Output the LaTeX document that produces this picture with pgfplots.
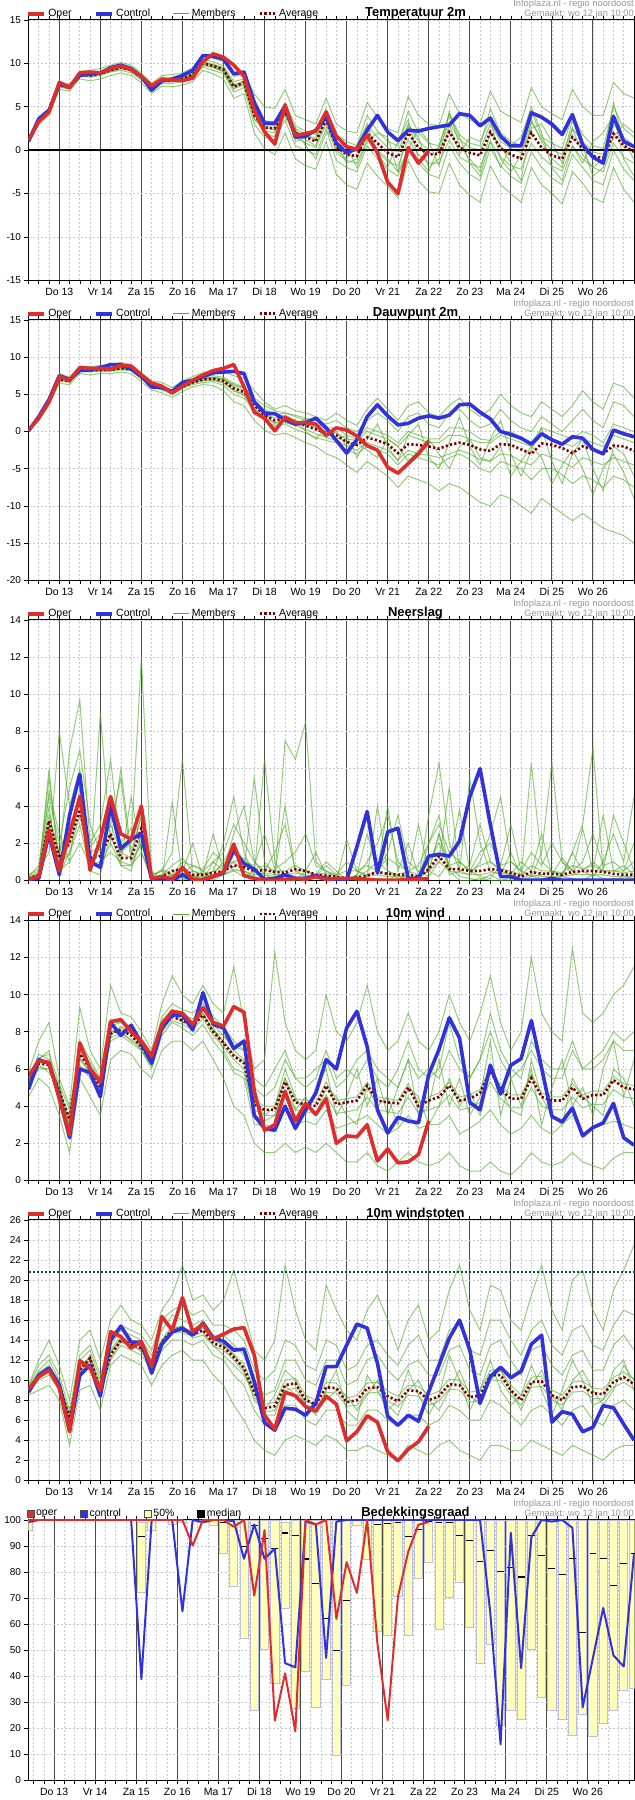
\documentclass[border=0pt]{standalone}
\usepackage{fontspec}
\setmainfont{Liberation Sans}
\usepackage{pgfplots}
\usepackage{pgfplotstable}
\pgfplotsset{compat=1.18}
\definecolor{operc}{RGB}{222,45,45}
\definecolor{ctrlc}{RGB}{50,50,218}
\definecolor{membc}{RGB}{80,170,40}
\definecolor{avgc}{RGB}{125,0,0}
\definecolor{gridc}{RGB}{200,200,210}
\definecolor{dayc}{RGB}{75,75,75}
\definecolor{barf}{RGB}{255,255,185}
\definecolor{bard}{RGB}{190,190,225}
\definecolor{infoc}{RGB}{150,150,150}
\definecolor{thrc}{RGB}{0,80,80}

% ---------- Temperatuur 2m ----------
\pgfplotstableread[header=false]{
k 0 1 2 3 4 5 6 7 8 9 10 11 12 13 14 15 16 17 18 19 20 21 22 23 24 25 26 27 28 29 30 31 32 33 34 35 36 37 38 39 40 41 42 43 44 45 46 47 48 49 50 51 52 53 54 55 56 57 58 59
oper 1.15 3.3 4.4 7.8 7.2 8.9 9.0 8.9 9.4 9.7 9.3 8.5 7.4 8.2 8.1 8.0 8.3 10.2 11.1 10.7 9.8 8.5 4.6 2.1 0.7 5.2 1.7 1.9 2.2 4.4 1.6 0.4 0.1 1.7 -0.3 -3.7 -5.0 0.3 -1.5 -0.1 nan nan nan nan nan nan nan nan nan nan nan nan nan nan nan nan nan nan nan nan
ctrl 1.0 3.6 4.6 7.6 7.3 8.6 8.8 8.9 9.5 9.8 9.4 8.5 6.9 8.0 8.2 8.6 9.2 10.9 10.8 10.5 8.8 9.0 5.5 3.1 3.1 5.1 1.5 1.6 2.3 3.8 0.8 -0.3 0.2 2.3 4.0 2.1 1.1 2.3 2.2 2.5 2.7 2.9 4.2 4.0 2.8 3.7 1.6 0.5 0.5 4.3 3.8 3.0 1.8 4.1 0.6 -0.8 -1.5 3.9 1.0 0.4
avg 1.2 3.4 4.4 7.5 7.2 8.7 8.6 8.8 9.2 9.5 9.2 8.4 7.2 8.0 8.0 8.2 8.7 10.0 9.7 9.3 7.3 7.8 4.0 2.6 2.5 4.4 2.0 1.5 1.0 3.5 0.4 -0.5 -0.7 1.9 0.8 -0.3 -0.8 2.0 0.3 -0.5 -0.4 2.1 0.3 -0.3 -0.6 2.1 0.2 -0.5 -1.0 2.0 0.3 -0.6 -1.0 1.5 0.2 -0.7 -0.9 1.9 0.5 -0.2
m1 1.5 3.8 4.8 7.9 7.6 9.1 9.2 9.4 9.8 10.1 9.8 8.9 7.7 8.6 8.7 8.9 9.5 10.9 10.6 10.2 8.5 8.8 6.5 5.0 4.8 7.0 4.0 3.5 3.0 6.0 3.0 2.2 2.0 5.5 3.8 2.5 2.0 6.2 4.0 3.0 2.8 6.5 4.2 3.5 3.0 6.8 4.5 3.8 3.2 7.2 5.0 4.2 3.5 7.0 5.0 4.0 4.0 7.8 6.5 6.0
m2 0.9 3.0 4.0 7.0 6.8 8.2 8.0 8.2 8.6 8.9 8.6 7.8 6.5 7.4 7.3 7.5 7.9 9.2 8.8 8.2 6.0 6.5 2.0 0.2 -0.5 2.0 -1.0 -1.8 -2.2 1.0 -2.8 -4.0 -4.5 -1.5 -3.0 -4.2 -5.5 -1.2 -3.5 -4.8 -5.0 -1.5 -4.0 -5.2 -6.0 -1.8 -4.0 -5.0 -6.0 -2.0 -4.0 -5.0 -6.2 -2.5 -3.8 -5.5 -6.0 -2.0 -4.5 -6.0
m3 1.3 3.6 4.6 7.7 7.4 8.9 8.9 9.0 9.5 9.8 9.5 8.6 7.4 8.3 8.2 8.5 9.0 10.4 10.2 9.7 7.9 8.2 5.0 3.5 3.0 5.5 2.8 2.2 1.8 4.8 1.8 1.0 0.5 4.0 2.2 1.0 0.5 4.5 2.0 0.8 0.5 4.2 1.8 0.8 0.5 4.8 2.0 1.0 0.5 4.5 1.5 0.8 0.2 4.0 1.8 0.5 0.2 5.0 2.5 1.5
m4 1.1 3.2 4.2 7.3 7.0 8.5 8.4 8.6 9.0 9.2 8.9 8.1 6.9 7.7 7.7 7.9 8.3 9.6 9.2 8.8 6.7 7.2 3.0 1.5 1.2 3.5 0.5 0.0 -0.5 2.5 -1.2 -2.0 -2.5 0.5 -1.0 -2.2 -3.0 0.2 -1.5 -2.8 -3.2 0.5 -1.5 -2.8 -3.5 0.2 -1.8 -3.0 -3.8 -0.2 -2.0 -3.2 -4.0 -0.5 -2.0 -3.5 -4.0 0.0 -2.2 -3.5
m5 1.2 3.5 4.5 7.6 7.3 8.6 8.7 8.8 9.3 9.6 9.1 8.3 7.0 8.1 8.1 8.1 8.6 10.2 9.9 9.5 7.5 7.5 4.5 2.0 1.5 5.2 1.0 1.5 1.5 4.5 0.0 -1.0 0.5 3.0 -0.5 -2.0 1.0 3.5 -1.0 -2.5 0.5 4.0 1.5 -1.5 -3.0 1.0 -2.0 0.5 1.5 5.0 2.0 -2.0 -3.5 0.5 -1.5 1.0 2.0 4.0 -1.0 -3.0
m6 1.0 3.3 4.3 7.4 7.1 8.8 8.5 8.9 9.1 9.4 9.3 8.5 7.3 7.9 7.9 8.3 8.8 9.8 9.5 9.0 7.0 8.0 3.5 2.8 2.5 4.0 2.5 0.5 -1.0 2.0 1.5 0.5 -2.0 1.0 2.0 1.5 -2.5 0.0 2.5 1.0 -1.8 3.0 -0.5 1.5 1.0 3.5 -1.0 -2.5 -0.5 2.5 3.0 1.0 -1.5 3.5 0.5 -3.0 -2.0 1.5 3.0 2.0
m7 1.2 3.5 4.5 7.6 7.3 8.8 8.7 8.9 9.3 9.6 9.3 8.5 7.3 8.1 8.1 8.3 8.8 10.1 9.8 9.4 7.5 8.0 4.5 3.0 2.8 5.0 2.5 1.8 1.2 4.0 1.0 0.2 -0.2 2.8 1.5 0.3 -0.2 3.0 1.0 0.0 0.2 3.2 1.2 0.3 0.0 3.0 1.0 0.2 -0.3 3.2 1.2 0.0 -0.5 2.5 1.0 -0.2 -0.5 3.0 1.5 0.5
m8 1.1 3.3 4.3 7.4 7.1 8.6 8.5 8.7 9.1 9.4 9.1 8.3 7.1 7.9 7.9 8.1 8.6 9.9 9.6 9.1 7.1 7.5 3.6 2.2 2.0 4.0 1.5 0.8 0.3 3.0 -0.3 -1.2 -1.5 1.2 -0.2 -1.3 -1.8 1.2 -0.5 -1.5 -1.5 1.2 -0.8 -1.5 -2.0 1.0 -0.8 -1.8 -2.2 0.8 -0.8 -1.8 -2.4 0.5 -1.0 -2.0 -2.5 0.8 -0.8 -1.5
m9 1.3 3.4 4.5 7.5 7.2 8.7 8.7 8.7 9.2 9.5 9.2 8.4 7.2 8.0 8.0 8.2 8.7 10.1 9.8 9.2 7.6 7.6 4.2 2.6 2.3 4.8 2.2 1.2 0.5 3.8 0.8 -1.5 -1.0 2.5 0.0 -1.0 -2.5 2.8 1.5 -2.0 -1.0 4.5 0.5 -1.0 -2.5 2.0 0.5 -1.5 -3.5 3.5 1.0 -1.0 -2.0 2.5 -0.5 -2.0 -1.0 5.5 1.0 -1.0
}\rA
\pgfplotstabletranspose[colnames from=0]{\tA}{\rA}

% ---------- Dauwpunt 2m ----------
\pgfplotstableread[header=false]{
k 0 1 2 3 4 5 6 7 8 9 10 11 12 13 14 15 16 17 18 19 20 21 22 23 24 25 26 27 28 29 30 31 32 33 34 35 36 37 38 39 40 41 42 43 44 45 46 47 48 49 50 51 52 53 54 55 56 57 58 59
oper 0.2 1.8 4.0 7.4 6.9 8.6 8.5 8.5 8.4 8.9 8.8 7.6 6.5 6.1 5.2 6.1 6.9 7.6 8.2 8.5 9.0 6.0 2.6 1.8 0.1 1.9 1.2 1.2 1.0 -0.5 0.5 0.2 -0.6 -1.9 -2.5 -4.8 -5.6 -4.3 -3.0 -1.3 nan nan nan nan nan nan nan nan nan nan nan nan nan nan nan nan nan nan nan nan
ctrl 0.1 2.0 4.3 7.5 7.0 8.2 8.3 8.6 9.0 9.0 8.4 7.4 6.0 5.9 5.4 6.6 6.9 7.4 7.9 8.0 8.1 7.8 4.0 2.5 2.4 1.6 1.0 1.2 1.8 0.5 -1.2 -2.9 -1.1 2.0 3.6 2.1 0.9 1.1 1.8 2.1 1.8 2.2 3.6 3.7 2.6 1.7 0.0 -0.4 -0.9 -1.7 -0.3 -1.1 -1.7 -0.7 -0.9 -2.4 -3.0 0.2 -0.3 -0.7
avg 0.1 1.8 4.0 7.0 6.8 8.3 8.2 8.3 8.3 8.5 8.4 7.3 6.2 5.9 5.3 6.0 6.6 7.0 7.1 6.8 5.8 5.3 3.5 2.2 1.5 1.8 1.2 0.8 0.3 -0.2 -0.5 -1.4 -1.8 -0.8 -1.2 -1.7 -2.9 -1.7 -1.8 -2.0 -2.3 -1.8 -1.5 -1.8 -2.4 -2.6 -1.7 -1.8 -2.4 -3.0 -1.6 -1.8 -2.2 -2.9 -2.0 -2.4 -3.0 -1.9 -2.0 -2.6
m1 0.3 2.2 4.5 7.8 7.3 8.8 8.7 8.9 9.0 9.3 9.0 7.9 6.8 6.6 5.9 6.8 7.4 7.9 8.2 8.1 7.5 7.2 5.5 4.0 3.0 3.5 2.8 2.5 2.0 1.5 2.5 1.5 0.8 3.0 4.5 3.0 1.5 3.5 4.0 2.5 2.0 3.5 4.5 3.0 2.0 3.0 5.0 3.5 2.5 2.0 4.0 3.0 2.0 3.5 5.5 4.0 3.0 6.5 6.0 4.5
m2 0.0 1.5 3.6 6.5 6.3 7.8 7.6 7.8 7.8 8.0 7.8 6.7 5.6 5.2 4.6 5.4 6.0 6.3 6.2 5.5 4.0 3.5 1.5 0.2 -0.5 -0.2 -0.8 -1.5 -2.0 -3.0 -3.5 -4.5 -5.5 -4.0 -5.0 -6.0 -7.5 -6.0 -6.5 -7.0 -8.0 -7.0 -7.5 -8.5 -9.5 -10.0 -8.5 -9.0 -10.0 -11.0 -9.0 -10.0 -11.0 -12.0 -11.0 -12.0 -13.0 -13.5 -14.0 -15.0
m3 0.2 1.9 4.2 7.3 7.0 8.5 8.4 8.5 8.6 8.8 8.6 7.5 6.4 6.2 5.5 6.3 6.9 7.4 7.5 7.3 6.5 6.0 4.2 3.0 2.2 2.5 2.0 1.5 1.0 0.5 0.5 -0.5 -1.0 0.5 0.0 -0.5 -1.5 0.0 -0.5 -1.0 -1.0 0.5 0.5 0.0 -1.0 -1.2 0.0 0.0 -0.8 -1.5 0.5 0.0 -0.5 -1.0 0.0 -0.5 -1.5 1.0 0.5 0.0
m4 0.1 1.7 3.8 6.8 6.6 8.1 8.0 8.1 8.1 8.3 8.2 7.1 6.0 5.6 5.0 5.8 6.3 6.6 6.7 6.2 5.0 4.5 2.8 1.4 0.8 1.0 0.3 -0.2 -0.8 -1.2 -1.5 -2.5 -3.0 -2.0 -2.5 -3.0 -4.5 -3.0 -3.5 -4.0 -4.5 -3.5 -3.0 -3.8 -5.0 -5.5 -4.0 -4.5 -5.0 -6.5 -5.0 -5.0 -5.8 -7.0 -6.0 -6.5 -7.5 -6.0 -6.5 -7.5
m5 0.0 1.8 4.1 7.1 6.9 8.2 8.4 8.2 8.5 8.6 8.3 7.2 6.1 5.8 5.4 6.1 6.5 7.2 7.0 6.5 5.5 4.8 3.0 2.5 1.0 2.0 1.5 0.0 -1.0 0.5 -1.0 -0.5 -3.5 -1.0 1.0 -2.0 -4.0 -0.5 1.0 -3.5 -5.0 -1.5 2.0 -2.0 -4.5 -1.0 1.5 -3.0 -6.0 -2.5 0.5 -4.0 -7.0 -3.0 -1.0 -5.0 -8.0 -2.0 -3.0 -6.0
m6 0.1 1.9 3.9 7.2 6.7 8.4 8.1 8.4 8.2 8.7 8.5 7.4 6.3 6.0 5.2 5.9 6.7 6.9 7.3 7.0 6.2 5.8 4.0 1.8 2.5 1.2 0.8 1.8 0.5 -0.8 0.0 -2.0 -1.5 -2.5 -3.5 -1.0 -2.0 -4.0 -2.5 -1.0 -3.0 -5.0 -2.0 -1.0 -3.5 -4.0 -2.0 -6.0 -4.0 -2.0 -3.5 -7.0 -4.5 -2.5 -5.0 -8.5 -5.0 -3.0 -5.5 -9.0
m7 0.1 1.8 4.0 7.1 6.8 8.3 8.2 8.3 8.3 8.5 8.4 7.3 6.2 5.9 5.3 6.0 6.6 7.1 7.2 6.9 6.0 5.5 3.8 2.5 1.8 2.2 1.5 1.0 0.5 0.0 -0.2 -1.0 -1.2 0.0 -0.5 -1.0 -2.0 -0.5 -1.0 -1.5 -1.5 -0.5 -0.5 -1.0 -1.5 -1.5 -0.5 -1.0 -1.5 -2.0 -0.5 -1.0 -1.5 -2.0 -1.0 -1.5 -2.0 -0.5 -1.0 -1.5
m8 0.1 1.7 3.9 6.9 6.7 8.2 8.1 8.2 8.2 8.4 8.3 7.2 6.1 5.8 5.2 5.9 6.5 6.8 6.9 6.6 5.5 5.0 3.0 1.8 1.2 1.4 0.8 0.3 -0.3 -0.8 -1.2 -2.0 -2.5 -1.5 -2.0 -2.5 -3.8 -2.5 -3.0 -3.2 -3.5 -3.0 -2.5 -3.0 -3.8 -4.0 -3.0 -3.2 -4.0 -4.5 -3.0 -3.5 -4.0 -4.8 -3.5 -4.0 -4.5 -3.5 -4.0 -4.5
m9 0.2 1.9 4.1 7.2 6.9 8.4 8.3 8.4 8.4 8.6 8.5 7.4 6.3 6.0 5.4 6.1 6.7 7.2 7.3 7.1 6.3 5.9 4.5 3.5 2.8 2.5 2.2 1.8 1.5 1.0 1.5 0.5 0.0 1.5 2.5 1.5 0.0 2.0 2.5 1.0 0.5 2.5 3.0 1.5 0.5 1.0 3.0 1.5 0.5 0.0 2.0 1.0 0.0 1.5 3.0 1.5 0.5 4.0 3.5 2.0
}\rB
\pgfplotstabletranspose[colnames from=0]{\tB}{\rB}

% ---------- Neerslag ----------
\pgfplotstableread[header=false]{
k 0 1 2 3 4 5 6 7 8 9 10 11 12 13 14 15 16 17 18 19 20 21 22 23 24 25 26 27 28 29 30 31 32 33 34 35 36 37 38 39 40 41 42 43 44 45 46 47 48 49 50 51 52 53 54 55 56 57 58 59
oper 0.05 0.2 2.7 0.5 2.5 4.5 0.55 2.2 4.5 2.5 2.2 4.0 0.1 0.2 0.05 0.7 0.05 0.05 0.2 0.45 1.95 0.25 0.1 0.0 0.0 0.05 0.1 0.05 0.2 0.05 0.1 0.1 0.1 0.05 0.0 0.0 0.0 0.05 0.05 0.1 nan nan nan nan nan nan nan nan nan nan nan nan nan nan nan nan nan nan nan nan
ctrl 0.05 0.1 2.5 0.3 3.5 5.7 1.0 0.7 4.0 1.7 2.2 2.5 0.05 0.1 0.0 0.3 0.0 0.0 0.2 0.4 1.6 0.9 0.6 0.05 0.1 0.3 0.1 0.1 0.25 0.1 0.05 0.0 1.8 3.7 0.4 2.6 2.8 0.1 0.1 1.3 1.4 1.3 2.1 4.5 6.0 3.0 0.2 0.2 0.0 0.0 0.0 0.1 0.0 0.0 0.0 0.0 0.0 0.0 0.0 0.0
avg 0.1 0.3 3.2 1.2 2.0 3.8 1.2 1.3 2.5 1.2 1.2 2.8 0.1 0.2 0.5 0.6 0.3 0.3 0.4 0.5 0.8 0.7 0.5 0.55 0.45 0.4 0.6 0.5 0.3 0.25 0.2 0.1 0.15 0.25 0.45 0.35 0.3 0.3 0.2 0.6 1.3 0.6 0.6 0.5 0.5 0.6 0.55 0.4 0.2 0.45 0.35 0.35 0.3 0.45 0.5 0.5 0.45 0.35 0.3 0.3
m1 0.2 0.5 5.5 1.0 7.0 9.7 2.0 3.0 6.5 1.5 2.0 12.0 0.2 0.5 1.5 6.5 0.3 0.0 1.0 0.5 2.5 4.0 1.0 0.3 0.2 7.5 6.5 8.5 1.0 0.5 0.2 0.0 0.3 1.0 2.0 3.5 1.0 0.5 0.0 3.5 6.3 2.0 0.5 0.3 1.0 2.5 4.5 1.0 0.5 0.2 1.5 6.3 1.0 0.3 0.5 1.0 0.5 0.5 0.8 0.3
m2 0.1 0.3 6.0 0.3 1.5 3.0 0.5 9.0 2.0 6.0 1.5 3.5 0.0 0.2 0.2 0.5 2.0 0.1 0.5 2.0 4.5 1.5 0.3 6.5 1.0 0.2 0.0 0.5 1.5 0.3 0.0 2.2 0.5 0.2 4.0 0.5 0.1 0.3 3.0 0.5 0.2 1.0 3.8 0.5 0.2 0.1 0.8 3.0 0.5 0.2 0.3 0.5 0.2 1.5 3.0 7.1 0.5 3.5 2.0 0.5
m3 0.2 0.8 4.5 2.0 5.0 7.0 3.0 1.5 3.0 5.5 1.0 2.0 0.5 0.0 4.2 0.2 0.5 0.3 2.5 0.5 1.0 0.5 5.5 1.0 0.3 4.0 0.5 0.2 0.3 1.0 0.5 0.0 0.3 2.5 0.5 4.0 0.5 2.0 0.3 0.5 2.5 0.3 0.5 5.5 2.0 0.5 0.3 1.5 0.2 6.3 1.0 0.5 0.3 1.5 0.5 0.2 1.0 2.5 1.0 4.5
m4 0.0 0.2 3.0 0.5 1.0 2.0 0.8 1.0 1.5 1.0 0.8 1.5 0.0 0.1 0.3 0.1 0.0 0.5 0.0 0.3 0.5 0.2 0.5 0.3 0.0 0.2 0.1 0.2 0.1 0.0 0.0 0.1 0.0 0.0 0.1 0.0 0.3 0.0 0.2 0.5 2.5 0.8 0.2 0.1 0.0 0.3 0.0 0.1 0.0 0.2 0.1 0.0 0.2 0.1 0.0 0.3 0.1 0.0 0.2 0.1
m5 0.3 0.6 1.5 8.0 4.0 6.0 1.0 2.0 4.5 1.0 4.5 1.5 0.3 0.5 0.2 0.3 0.8 0.5 1.0 1.5 3.0 2.0 1.0 0.5 1.5 3.0 0.5 0.5 0.2 0.8 0.3 0.5 0.5 0.3 0.5 1.5 3.5 1.0 0.5 0.2 1.0 5.0 0.5 0.8 3.0 1.0 0.5 0.3 1.0 0.5 2.5 0.3 1.2 0.5 2.8 0.5 3.5 0.5 0.5 2.0
m6 0.1 0.2 4.0 0.2 2.5 4.5 0.5 0.3 2.5 0.8 0.5 2.5 0.0 0.0 0.1 0.0 0.2 0.0 0.3 1.0 0.5 0.5 0.2 0.0 0.0 0.0 0.0 0.1 0.2 0.0 0.0 0.0 0.1 0.0 0.0 0.0 0.0 0.1 0.0 2.0 3.5 0.5 0.0 0.0 0.1 0.0 0.0 0.0 0.0 0.0 0.0 0.1 0.0 0.0 0.0 0.0 0.0 0.1 0.0 0.0
m7 0.1 0.4 3.5 1.5 3.0 4.0 1.5 1.8 3.0 1.5 1.2 3.5 0.1 0.3 0.8 1.2 0.5 0.3 0.5 0.8 1.0 1.2 0.6 0.8 0.5 0.5 0.8 0.5 0.3 0.4 0.2 0.1 0.2 0.5 1.0 0.5 0.3 0.5 0.3 1.0 2.0 0.8 1.0 0.5 0.8 1.0 0.6 0.5 0.3 0.8 0.5 0.5 0.4 0.8 0.6 0.8 0.5 0.5 0.4 0.5
m8 0.0 0.3 2.5 0.8 1.5 3.5 1.0 0.8 2.0 0.8 0.8 2.0 0.0 0.1 0.3 0.4 0.2 0.2 0.3 0.3 0.6 0.5 0.3 0.4 0.3 0.3 0.4 0.3 0.2 0.2 0.1 0.1 0.1 0.2 0.3 0.2 0.2 0.2 0.1 0.5 1.0 0.5 0.4 0.3 0.3 0.4 0.4 0.3 0.1 0.3 0.2 0.2 0.2 0.3 0.3 0.3 0.3 0.2 0.2 0.2
m9 0.2 0.1 4.8 2.5 1.0 5.0 1.8 2.5 3.5 2.0 2.8 2.0 0.2 0.6 0.3 1.0 0.8 0.6 1.5 1.0 2.0 1.0 0.8 2.5 0.6 1.0 1.5 2.5 0.8 0.5 0.3 1.0 0.5 0.8 0.5 1.2 0.8 0.5 0.8 2.0 3.0 1.5 1.0 0.5 1.5 2.0 0.8 1.0 0.5 1.5 0.8 2.0 1.0 0.5 1.0 2.5 0.8 1.0 0.5 1.0
}\rC
\pgfplotstabletranspose[colnames from=0]{\tC}{\rC}

% ---------- 10m wind ----------
\pgfplotstableread[header=false]{
k 0 1 2 3 4 5 6 7 8 9 10 11 12 13 14 15 16 17 18 19 20 21 22 23 24 25 26 27 28 29 30 31 32 33 34 35 36 37 38 39 40 41 42 43 44 45 46 47 48 49 50 51 52 53 54 55 56 57 58 59
oper 5.6 6.45 6.35 4.4 2.45 7.4 6.0 5.3 8.55 8.65 8.0 7.5 6.7 8.4 9.1 9.0 8.4 9.3 8.5 8.3 9.35 9.05 4.8 2.7 3.0 4.8 3.2 4.15 3.55 4.4 2.0 2.4 2.35 3.0 1.05 1.7 0.95 1.0 1.4 3.2 nan nan nan nan nan nan nan nan nan nan nan nan nan nan nan nan nan nan nan nan
ctrl 4.9 6.5 6.3 4.5 2.3 6.0 5.8 4.5 8.5 7.8 8.35 7.4 6.3 8.2 8.9 8.9 8.1 10.1 8.4 8.2 7.1 7.5 3.5 2.8 2.7 4.0 2.8 3.8 4.7 6.5 6.0 8.2 9.1 7.2 3.8 2.55 3.4 3.2 3.1 5.7 7.05 8.75 7.65 4.2 3.8 6.2 4.65 6.2 6.55 8.6 6.05 3.45 3.15 3.9 2.4 2.85 3.1 4.15 2.3 1.9
avg 5.2 6.3 6.2 4.8 3.3 6.8 6.0 5.0 7.9 8.1 7.8 7.2 6.4 8.2 8.8 8.6 8.3 8.9 8.0 7.4 6.7 6.3 4.1 3.8 3.8 5.3 4.2 4.1 4.0 5.1 4.1 4.2 4.3 5.1 4.3 4.2 4.15 5.0 4.0 4.3 4.5 5.1 4.3 4.4 4.7 5.9 4.9 4.4 4.4 5.5 4.5 4.3 4.3 5.0 4.4 4.6 4.6 5.4 5.0 4.9
m1 5.8 7.5 8.5 5.5 4.0 9.3 7.0 6.0 10.5 9.0 8.8 8.0 7.0 9.5 11.0 10.0 9.5 10.5 9.5 9.0 11.5 8.5 6.0 6.5 12.3 8.5 7.0 6.5 7.0 10.0 8.0 7.5 8.5 10.5 8.0 7.0 7.5 9.0 7.5 7.0 8.0 10.0 8.5 7.5 9.0 11.0 8.5 7.0 8.0 12.0 9.0 8.0 7.5 12.5 9.0 8.5 9.0 10.0 10.5 11.5
m2 4.5 5.5 5.0 3.5 1.5 5.5 4.5 3.5 6.5 7.0 6.8 6.0 5.5 7.0 7.5 7.5 7.0 7.5 6.5 5.5 4.0 3.5 2.0 1.5 1.5 2.0 1.5 1.8 1.5 2.0 1.5 1.0 1.0 1.5 0.8 0.5 1.0 1.5 1.0 0.8 1.0 1.5 0.8 0.5 0.5 1.0 0.5 0.3 0.8 1.5 1.0 0.8 1.0 1.5 1.0 0.8 0.6 1.2 1.5 1.5
m3 5.5 6.8 6.5 5.0 3.0 7.5 6.5 5.5 8.5 8.5 8.3 7.5 6.8 8.8 9.5 9.2 9.0 9.5 8.8 8.3 7.5 7.0 5.0 4.5 5.0 6.5 5.5 5.0 5.5 7.0 5.5 6.0 5.5 6.5 5.5 5.0 6.0 7.5 6.0 5.5 6.0 8.5 6.5 5.5 6.5 9.0 7.0 6.0 5.5 7.5 6.5 6.0 6.0 7.5 6.0 6.5 7.0 8.0 7.5 8.0
m4 5.0 6.0 6.0 4.5 2.5 6.2 5.5 4.5 7.5 7.8 7.4 7.0 6.0 7.8 8.5 8.2 7.8 8.4 7.5 6.8 5.8 5.5 3.0 3.0 2.8 4.0 3.0 3.2 3.0 3.8 2.8 3.0 3.2 3.5 3.0 2.5 2.8 3.5 2.8 3.0 3.0 3.5 2.5 2.8 3.2 3.8 3.0 2.5 2.8 3.5 2.8 2.5 3.0 3.5 2.5 2.8 3.0 3.2 3.0 2.8
m5 5.3 6.5 7.0 4.0 3.5 7.0 6.2 5.0 8.0 8.0 7.5 7.3 6.5 8.0 9.0 8.5 8.5 9.0 8.0 7.8 7.0 6.5 4.5 3.5 4.0 6.0 4.5 3.5 5.0 6.0 3.5 4.5 6.0 4.0 5.5 3.5 5.0 6.5 3.5 4.0 6.5 4.0 5.5 3.5 4.5 7.5 3.5 5.5 4.0 6.0 3.0 5.0 6.5 4.0 5.0 3.5 6.0 7.5 4.5 6.5
m6 5.1 6.2 5.8 5.2 2.8 6.5 5.8 4.8 7.8 8.3 8.0 7.0 6.2 8.5 9.2 8.8 8.0 9.2 8.3 7.0 6.0 5.8 3.5 3.2 3.5 5.5 3.8 4.5 3.5 5.0 4.5 3.5 3.0 5.0 4.0 4.5 3.0 5.0 4.5 3.0 4.0 5.5 4.0 4.8 3.5 6.0 5.0 3.8 3.5 6.5 4.5 3.5 3.0 5.5 4.5 4.0 3.5 6.0 5.5 4.0
m7 5.2 6.4 6.3 4.9 3.2 6.9 6.1 5.1 8.0 8.2 7.9 7.3 6.5 8.3 8.9 8.7 8.4 9.0 8.1 7.5 6.8 6.4 4.3 4.0 4.0 5.5 4.4 4.3 4.2 5.3 4.3 4.4 4.5 5.3 4.5 4.4 4.3 5.2 4.2 4.5 4.7 5.3 4.5 4.6 4.9 6.1 5.1 4.6 4.6 5.7 4.7 4.5 4.5 5.2 4.6 4.8 4.8 5.6 5.2 5.1
m8 5.0 6.1 6.0 4.6 3.0 6.6 5.8 4.8 7.7 7.9 7.6 7.0 6.2 8.0 8.6 8.4 8.1 8.7 7.8 7.2 6.5 6.0 3.8 3.5 3.5 4.8 3.8 3.7 3.6 4.6 3.6 3.7 3.8 4.5 3.8 3.7 3.6 4.5 3.6 3.8 4.0 4.6 3.8 3.9 4.2 5.3 4.4 3.9 3.9 5.0 4.0 3.8 3.8 4.5 3.9 4.1 4.1 4.9 4.5 4.4
m9 5.4 6.6 6.8 5.2 3.8 7.2 6.3 5.4 8.3 8.5 8.1 7.6 6.8 8.6 9.2 8.9 8.7 9.3 8.4 7.8 7.2 7.0 5.5 5.0 6.0 7.0 5.5 5.5 6.0 6.5 5.0 5.5 6.5 7.0 6.0 5.5 5.0 6.5 5.5 6.0 5.5 7.0 6.0 5.5 6.5 8.0 6.5 5.5 6.0 7.0 6.0 5.5 5.5 7.0 6.0 6.0 6.5 7.5 7.0 7.0
}\rD
\pgfplotstabletranspose[colnames from=0]{\tD}{\rD}

% ---------- 10m windstoten ----------
\pgfplotstableread[header=false]{
k 0 1 2 3 4 5 6 7 8 9 10 11 12 13 14 15 16 17 18 19 20 21 22 23 24 25 26 27 28 29 30 31 32 33 34 35 36 37 38 39 40 41 42 43 44 45 46 47 48 49 50 51 52 53 54 55 56 57 58 59
oper 9.1 10.35 11.0 9.2 4.85 11.95 11.2 9.0 14.85 14.35 13.2 13.85 11.35 16.35 15.0 18.25 14.85 15.6 14.1 14.6 15.1 15.25 12.5 6.5 5.1 8.8 8.45 7.35 6.9 8.4 7.6 3.95 4.85 6.45 5.8 2.85 1.95 3.1 3.85 5.4 nan nan nan nan nan nan nan nan nan nan nan nan nan nan nan nan nan nan nan nan
ctrl 8.8 10.5 11.2 9.5 5.0 10.5 11.5 8.4 14.0 15.4 13.8 13.8 10.7 13.6 14.8 15.2 14.5 15.7 14.2 13.9 13.0 13.1 9.85 5.75 5.0 7.2 7.1 6.5 7.7 11.35 11.35 13.5 15.6 15.2 11.7 6.4 5.5 6.5 5.9 8.85 11.5 14.2 16.0 13.0 7.7 10.35 11.3 10.25 10.9 13.6 14.5 5.8 6.85 6.6 4.85 5.3 7.45 7.25 5.6 4.0
avg 9.0 10.5 11.0 9.5 6.2 11.0 12.2 9.0 12.5 14.0 13.6 13.2 11.5 13.8 15.0 15.0 14.6 15.0 13.7 13.3 12.3 11.2 8.8 7.2 7.4 9.5 9.7 8.0 7.6 9.3 9.2 7.8 8.0 9.2 9.3 8.4 7.9 9.0 8.9 8.0 8.4 9.6 9.5 8.3 8.5 10.5 10.5 9.0 8.0 9.8 9.9 8.5 8.0 9.3 9.4 8.7 8.6 9.8 10.3 9.6
m1 9.5 12.0 14.0 11.5 8.0 14.0 15.0 12.0 16.0 17.5 16.0 15.5 14.0 17.0 18.5 21.5 18.0 18.5 17.0 18.0 21.0 17.0 13.0 12.0 14.0 21.5 17.0 14.0 13.0 19.5 17.0 15.0 14.0 17.0 18.5 16.0 13.0 16.0 17.5 14.0 15.0 19.0 21.5 17.0 15.0 19.5 19.0 16.0 15.0 18.5 21.5 17.0 15.0 20.0 21.0 17.0 15.0 19.0 21.0 23.5
m2 8.5 9.0 9.5 8.0 3.5 9.0 9.5 7.0 11.5 12.5 12.0 11.5 9.5 11.5 12.5 13.0 12.0 12.0 10.5 9.5 7.5 6.0 4.0 3.0 2.5 4.0 4.5 4.0 3.5 4.5 4.0 3.0 3.0 3.5 3.0 2.5 2.0 3.5 3.0 2.5 3.5 4.0 3.0 2.5 2.0 3.5 3.5 3.0 3.0 4.0 3.5 3.0 2.5 3.5 3.0 2.5 2.0 3.0 3.5 3.5
m3 9.2 11.0 12.0 10.0 6.5 12.0 13.0 10.0 13.5 15.0 14.5 14.0 12.5 15.0 16.5 16.0 15.5 16.0 14.5 14.5 13.5 12.5 10.0 8.5 9.0 12.0 12.0 10.0 9.5 12.0 12.0 9.5 10.0 12.0 12.5 11.0 10.0 11.5 12.0 10.5 10.5 13.0 13.5 11.0 10.5 13.5 14.0 12.0 10.5 13.0 13.5 11.5 10.5 12.5 13.0 11.0 11.0 13.5 14.5 13.0
m4 8.9 10.0 10.5 9.0 5.5 10.5 11.5 8.5 12.0 13.5 13.0 12.5 11.0 13.0 14.0 14.0 13.5 14.0 12.5 12.0 10.5 9.5 7.0 5.5 5.5 7.5 7.5 6.0 5.5 7.0 7.0 5.5 5.5 7.0 7.0 6.0 5.5 6.5 6.5 5.5 6.0 7.5 7.0 6.0 6.0 8.0 7.5 6.5 5.5 7.0 7.5 6.5 5.5 7.0 7.5 6.0 5.5 7.5 8.0 7.0
m5 9.0 10.8 11.5 9.8 6.0 11.0 12.5 9.5 13.0 14.5 13.5 13.5 12.0 14.0 15.5 15.0 15.0 15.5 14.0 13.5 12.5 11.0 8.0 7.0 8.5 11.0 10.0 7.5 6.5 9.0 11.0 7.0 6.0 10.5 9.0 7.0 8.0 11.0 8.5 6.5 8.5 12.5 10.0 7.0 9.0 12.0 9.0 7.5 8.5 11.5 9.0 6.5 9.0 12.0 10.0 7.5 8.0 11.0 12.0 9.0
m6 8.7 10.2 10.8 9.3 5.0 10.2 12.0 9.0 12.8 14.0 13.8 12.8 11.5 13.5 15.0 15.5 14.2 14.5 13.5 12.5 11.5 10.5 9.0 6.5 6.5 9.5 8.5 8.5 7.0 8.0 9.0 8.5 7.0 8.5 10.0 7.5 6.5 9.0 10.0 8.0 7.0 9.0 11.0 8.5 7.5 10.0 11.0 9.0 7.0 9.5 11.0 8.5 7.0 10.0 11.0 9.0 7.5 9.0 11.5 10.0
m7 9.1 10.6 11.2 9.6 6.5 11.2 12.3 9.2 12.8 14.2 13.8 13.4 11.8 14.0 15.2 15.3 14.8 15.2 14.0 13.6 12.6 11.6 9.2 7.6 7.8 10.0 10.2 8.5 8.0 9.8 9.7 8.2 8.5 9.7 9.8 8.9 8.4 9.5 9.4 8.5 8.9 10.1 10.0 8.8 9.0 11.0 11.0 9.5 8.5 10.3 10.4 9.0 8.5 9.8 9.9 9.2 9.1 10.3 10.8 10.1
m8 8.9 10.3 10.8 9.3 5.9 10.8 12.0 8.8 12.2 13.8 13.4 13.0 11.2 13.6 14.8 14.7 14.4 14.8 13.4 13.0 12.0 10.8 8.4 6.8 7.0 9.0 9.2 7.5 7.2 8.8 8.7 7.4 7.5 8.7 8.8 7.9 7.4 8.5 8.4 7.5 7.9 9.1 9.0 7.8 8.0 10.0 10.0 8.5 7.5 9.3 9.4 8.0 7.5 8.8 8.9 8.2 8.1 9.3 9.8 9.1
m9 9.3 11.5 12.5 10.5 7.0 12.5 13.5 10.5 14.0 15.5 15.0 14.5 13.0 16.0 17.0 17.5 16.5 17.0 15.5 15.5 15.0 14.0 11.0 10.0 11.0 14.0 13.5 11.5 11.0 14.0 13.5 11.0 11.5 13.5 14.0 12.5 11.5 13.5 14.5 12.0 12.0 15.0 15.5 13.0 12.5 16.0 16.0 14.0 12.5 15.0 16.0 13.5 12.5 15.0 15.5 13.5 13.0 15.5 17.0 16.5
}\rE
\pgfplotstabletranspose[colnames from=0]{\tE}{\rE}

% ---------- Bedekkingsgraad ----------
\pgfplotstableread[header=false]{
k 0.5 1.5 2.5 3.5 4.5 5.5 6.5 7.5 8.5 9.5 10.5 11.5 12.5 13.5 14.5 15.5 16.5 17.5 18.5 19.5 20.5 21.5 22.5 23.5 24.5 25.5 26.5 27.5 28.5 29.5 30.5 31.5 32.5 33.5 34.5 35.5 36.5 37.5 38.5 39.5 40.5 41.5 42.5 43.5 44.5 45.5 46.5 47.5 48.5 49.5 50.5 51.5 52.5 53.5 54.5 55.5 56.5 57.5 58.5 59.5
oper 100 100 100 100 100 100 100 100 100 100 100 100 100 100 100 100 90.2 100 100 100 97.4 100 71 96.1 22.9 41.1 18.8 100 98.3 100 62 83.8 72 100 52.5 23.1 70.5 87.8 98.2 99.3 nan nan nan nan nan nan nan nan nan nan nan nan nan nan nan nan nan nan nan nan
ctrl 99.2 100 100 100 100 100 100 100 100 100 100 38.8 100 100 100 64.9 100 99.2 100 100 99.6 85.1 98.3 85.1 89 45 43.4 99.4 98.3 47 99.4 100 100 100 100 100 100 100 100 100 100 100 100 100 100 64.3 13.8 95.1 43.1 93.4 100 99.4 100 97 28 47 66.2 48 43.7 87
bot 96 100 100 100 100 100 100 100 100 100 100 72 96 100 98.3 99 100 99 97.8 87 74.3 54.6 27 50.4 37.3 66.2 27.6 41.9 28 38.8 9.5 36.5 98 84.8 57.2 55.8 70.7 55.5 77.4 83.9 58.1 70.1 76.2 58.9 45 52.3 21 26.9 23.5 50.1 31.9 26.9 23.5 17.4 25.3 17 21.9 26.9 34.7 35.3
len 4 0 0 0 0 0 0 0 0 0 0 27 4 0 1.7 1 0 1 2.2 13 25.7 45.4 73 49.6 62.7 32.8 72.4 58.1 72 61.2 90.5 63.5 2 15.2 42.8 44.2 29.3 44.5 22.6 16.1 41.9 29.9 23.8 41.1 55 47.7 79 73.1 76.5 49.9 68.1 73.1 76.5 82.6 74.7 83 78.1 73.1 65.3 64.7
med nan nan nan nan nan nan nan nan nan nan nan 93.5 nan nan nan nan nan nan nan 99 nan 89.7 98 93 89 95 94 85 75.5 62.3 50 69 nan nan 98.3 98.6 99 93.6 96.3 99.4 99 99 94 92.2 83.9 88.3 80.1 81.9 78.1 94 86.2 81.4 78.9 85.2 56.9 87 85.2 74.9 83.2 87
}\rF
\pgfplotstabletranspose[colnames from=0]{\tF}{\rF}

\pgfplotsset{
  pbase/.style={
    scale only axis, width=606bp, height=260.3bp, anchor=south west,
    axis line style={black, line width=1bp},
    tick align=outside, major tick length=4bp, minor tick length=4bp,
    tick style={black, line width=0.6bp},
    xmajorgrids, xminorgrids, ymajorgrids,
    major x grid style={dayc, line width=0.9bp, solid},
    minor x grid style={gridc, line width=0.7bp, dash pattern=on 2bp off 2bp},
    major y grid style={gridc, line width=0.7bp, dash pattern=on 2bp off 2bp},
    xtick={3,7,...,55},
    xticklabels={Do 13,Vr 14,Za 15,Zo 16,Ma 17,Di 18,Wo 19,Do 20,Vr 21,Za 22,Zo 23,Ma 24,Di 25,Wo 26},
    xticklabel style={font=\fontsize{10.5bp}{12bp}\selectfont},
    yticklabel style={font=\fontsize{10bp}{12bp}\selectfont},
    /pgf/number format/assume math mode=true,
    clip mode=individual,
  },
  pleg/.style={
    legend style={at={(0,1)}, anchor=south west, xshift=-2bp, yshift=0.5bp, draw=none, fill=none, inner sep=0pt, legend columns=4, font=\fontsize{10.5bp}{12bp}\selectfont, nodes={inner xsep=2bp, inner ysep=1bp}, /tikz/every even column/.append style={column sep=21bp}},
    legend cell align=left,
  },
  pupper/.style={pbase, pleg, xmin=0, xmax=59.05, minor xtick={0,...,59},
    legend image code/.code={\draw[##1] (0bp,0bp) -- (16bp,0bp);}},
  memb/.style={draw=membc, line width=1bp, opacity=0.6},
  operl/.style={draw=operc, line width=3.6bp, line join=round},
  ctrll/.style={draw=ctrlc, line width=3.6bp, line join=round},
  avgl/.style={draw=avgc, line width=2.6bp, dash pattern=on 2.2bp off 2.2bp},
}

\newcommand{\header}[1]{%
  \node[anchor=center, font=\bfseries\fontsize{13bp}{14bp}\selectfont, inner sep=0pt, yshift=7bp] at (rel axis cs:0.6386,1) {#1};
  \node[anchor=east, text=infoc, font=\fontsize{9.3bp}{10bp}\selectfont, inner sep=0pt, yshift=16bp, xshift=-0.5bp] at (rel axis cs:1,1) {Infoplaza.nl - regio noordoost};
  \node[anchor=east, text=infoc, font=\fontsize{9.3bp}{10bp}\selectfont, inner sep=0pt, yshift=6bp, xshift=-0.5bp] at (rel axis cs:1,1) {Gemaakt: wo 12 jan 10:00};
}
\newcommand{\members}[1]{%
  \addplot[memb, forget plot] table[x=k,y=m1]{#1};
  \addplot[memb, forget plot] table[x=k,y=m2]{#1};
  \addplot[memb, forget plot] table[x=k,y=m3]{#1};
  \addplot[memb, forget plot] table[x=k,y=m4]{#1};
  \addplot[memb, forget plot] table[x=k,y=m5]{#1};
  \addplot[memb, forget plot] table[x=k,y=m6]{#1};
  \addplot[memb, forget plot] table[x=k,y=m7]{#1};
  \addplot[memb, forget plot] table[x=k,y=m8]{#1};
  \addplot[memb, forget plot] table[x=k,y=m9]{#1};
}
\newcommand{\mainlines}[1]{%
  \addplot[avgl, forget plot] table[x=k,y=avg]{#1};
  \addplot[ctrll, forget plot] table[x=k,y=ctrl]{#1};
  \addplot[operl, forget plot] table[x=k,y=oper]{#1};
  \addlegendimage{operl}\addlegendentry{Oper}
  \addlegendimage{ctrll}\addlegendentry{Control}
  \addlegendimage{draw=membc, line width=0.8bp}\addlegendentry{Members}
  \addlegendimage{avgl}\addlegendentry{Average}
}

\begin{document}
\begin{tikzpicture}
\useasboundingbox (0,0) rectangle (635bp,1800bp);

\begin{axis}[pupper, at={(28.5bp,1519.7bp)}, ymin=-15, ymax=15, ytick={-15,-10,...,15}]
\members{\tA}
\draw[black, line width=2.2bp] (axis cs:0,0) -- (axis cs:59.05,0);
\mainlines{\tA}
\header{Temperatuur 2m}
\end{axis}

\begin{axis}[pupper, at={(28.5bp,1219.7bp)}, ymin=-20, ymax=15, ytick={-20,-15,...,15}]
\members{\tB}
\mainlines{\tB}
\header{Dauwpunt 2m}
\end{axis}

\begin{axis}[pupper, at={(28.5bp,919.7bp)}, ymin=0, ymax=14, ytick={0,2,...,14}]
\members{\tC}
\mainlines{\tC}
\header{Neerslag}
\end{axis}

\begin{axis}[pupper, at={(28.5bp,619.5bp)}, ymin=0, ymax=14, ytick={0,2,...,14}]
\members{\tD}
\mainlines{\tD}
\header{10m wind}
\end{axis}

\begin{axis}[pupper, at={(28.5bp,319.7bp)}, ymin=0, ymax=26, ytick={0,2,...,26}]
\members{\tE}
\draw[thrc, line width=1.8bp, dash pattern=on 2bp off 2bp] (axis cs:0,20.8) -- (axis cs:59.05,20.8);
\mainlines{\tE}
\header{10m windstoten}
\end{axis}

\begin{axis}[pbase, at={(28.5bp,19.7bp)}, xmin=0.5, xmax=59.55, minor xtick={1,...,59},
  ymin=0, ymax=100, ytick={0,10,...,100}, ybar stacked, bar width=8.2bp]
\addplot[draw=none, fill=none] table[x=k,y=bot]{\tF};
\addplot[fill=barf, draw=bard, line width=0.8bp] table[x=k,y=len]{\tF};
\end{axis}

\begin{axis}[scale only axis, width=606bp, height=260.3bp, anchor=south west, at={(28.5bp,19.7bp)},
  xmin=0.5, xmax=59.55, ymin=0, ymax=100, hide axis, clip mode=individual, pleg,
  legend image code/.code={\draw[#1] (0bp,-3.5bp) rectangle (7bp,3.5bp);}]
\addplot[only marks, mark=-, mark size=3.4bp, mark options={black, line width=1.1bp}, forget plot] table[x=k,y=med]{\tF};
\addplot[draw=ctrlc, line width=2bp, line join=round, forget plot] table[x=k,y=ctrl]{\tF};
\addplot[draw=operc, line width=2bp, line join=round, forget plot] table[x=k,y=oper]{\tF};
\addlegendimage{fill=operc, draw=black!70}\addlegendentry{oper}
\addlegendimage{fill=ctrlc, draw=black!70}\addlegendentry{control}
\addlegendimage{fill=barf, draw=black!70}\addlegendentry{50\%}
\addlegendimage{fill=black, draw=black}\addlegendentry{median}
\header{Bedekkingsgraad}
\end{axis}
\end{tikzpicture}
\end{document}
